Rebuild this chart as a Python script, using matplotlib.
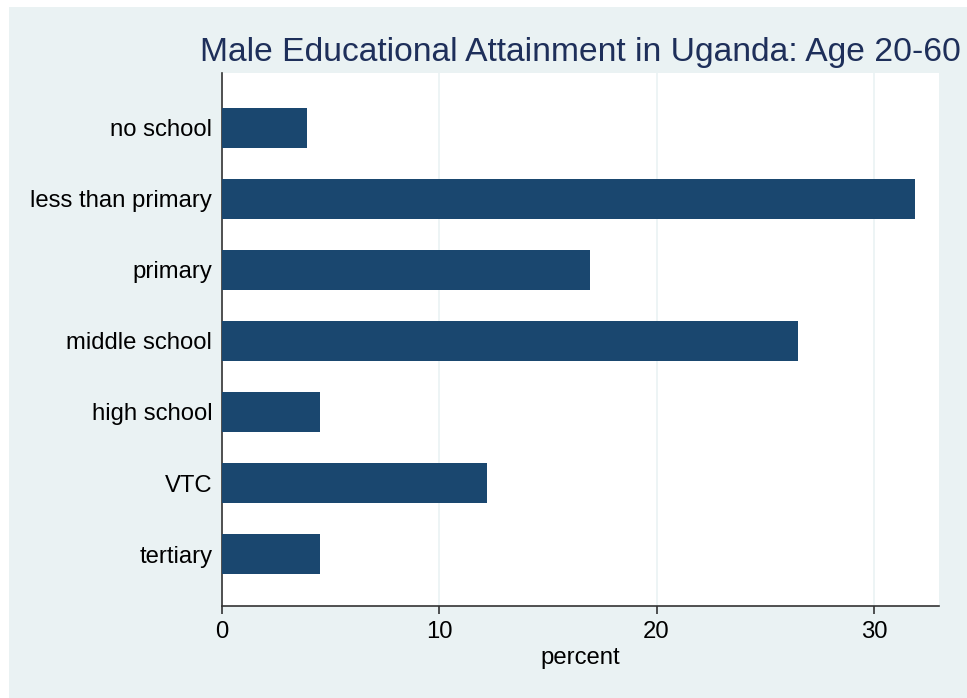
import matplotlib
matplotlib.use("Agg")
import matplotlib.pyplot as plt
from matplotlib.patches import Rectangle

plt.rcParams['font.family'] = ['Liberation Sans', 'DejaVu Sans']

categories = ["no school", "less than primary", "primary", "middle school",
              "high school", "VTC", "tertiary"]
percent = [3.9, 31.9, 16.95, 26.5, 4.5, 12.2, 4.5]
xticks = [0, 10, 20, 30]

bar_color = "#1A476F"
bg_color = "#EAF2F3"

fig = plt.figure(figsize=(9.67, 6.98), dpi=100, facecolor="white")
fig.patches.append(Rectangle((9 / 967, 0), 1, (698 - 7) / 698,
                             transform=fig.transFigure, facecolor=bg_color,
                             edgecolor="none", zorder=-10))

ax = fig.add_axes([222 / 967, 1 - 606 / 698, (939 - 222) / 967, (606 - 73) / 698])
ax.set_facecolor("white")

pos = list(range(len(categories)))
ax.barh(pos, percent, height=0.56, color=bar_color, zorder=3)
ax.set_ylim(6.73, -0.77)
ax.set_xlim(0, 33)

ax.set_yticks(pos)
ax.set_yticklabels(categories, fontsize=17.2)
ax.tick_params(axis="y", length=0, pad=7)
ax.set_xticks(xticks)
ax.set_xticklabels([str(t) for t in xticks], fontsize=17.2)
ax.tick_params(axis="x", length=6, width=1.2, color="#333333", pad=5)

ax.grid(axis="x", color=bg_color, linewidth=1.2, zorder=0)
for s in ["top", "right"]:
    ax.spines[s].set_visible(False)
for s in ["left", "bottom"]:
    ax.spines[s].set_color("#333333")
    ax.spines[s].set_linewidth(1.2)

ax.set_xlabel("percent", fontsize=17.2, labelpad=3)
ax.set_title("Male Educational Attainment in Uganda: Age 20-60",
             fontsize=24.2, color="#1E2F5A", pad=9)

fig.savefig("out.png", dpi=100, facecolor=fig.get_facecolor())
